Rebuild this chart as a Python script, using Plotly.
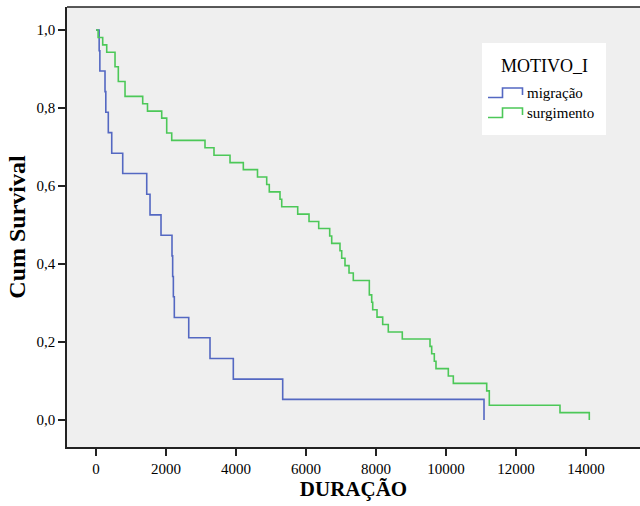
import plotly.graph_objects as go

# ---- data ----
mig_time = [0, 90, 110, 257, 280, 351, 449, 763, 1449, 1543, 1857, 2171, 2190,
            2210, 2237, 2649, 3257, 3923, 5334, 11086]
mig_surv = [1.000, 0.947, 0.895, 0.842, 0.789, 0.737, 0.684, 0.632, 0.579, 0.526,
            0.474, 0.421, 0.368, 0.316, 0.263, 0.211, 0.158, 0.105, 0.053, 0.000]

sur_time = [0, 60, 191, 306, 543, 637, 829, 1334, 1471, 1877, 2020, 2163, 3114,
            3371, 3829, 4209, 4614, 4877, 4951, 5257, 5306, 5763, 6086, 6363,
            6677, 6734, 6971, 7020, 7114, 7229, 7351, 7809, 7877, 7906, 8029,
            8191, 8351, 8751, 9543, 9591, 9666, 9714, 10066, 10209, 11163, 11237,
            13257, 14094]
sur_surv = [1.000, 0.981, 0.962, 0.943, 0.906, 0.868, 0.830, 0.811, 0.792, 0.774,
            0.736, 0.717, 0.698, 0.679, 0.660, 0.642, 0.623, 0.604, 0.585, 0.566,
            0.547, 0.528, 0.509, 0.491, 0.472, 0.453, 0.434, 0.415, 0.396, 0.377,
            0.358, 0.321, 0.302, 0.283, 0.264, 0.245, 0.226, 0.208, 0.189, 0.170,
            0.151, 0.132, 0.113, 0.094, 0.075, 0.038, 0.019, 0.000]

x_ticks = [0, 2000, 4000, 6000, 8000, 10000, 12000, 14000]
y_ticks = [0.0, 0.2, 0.4, 0.6, 0.8, 1.0]
y_tick_labels = ["0,0", "0,2", "0,4", "0,6", "0,8", "1,0"]

series_names = ["migração", "surgimento"]
legend_title = "MOTIVO_I"
x_title = "DURAÇÃO"
y_title = "Cum Survival"

BLUE = "#5468c2"
GREEN = "#4cc858"
COLORS = [BLUE, GREEN]
SERIF = "Liberation Serif, Times New Roman, serif"

W, H = 640, 506
ML, MR, MT, MB = 67, 0, 7, 59
PW, PH = W - ML - MR, H - MT - MB


def px(x):  # pixel -> paper x
    return (x - ML) / PW


def py(y):  # pixel -> paper y
    return 1 - (y - MT) / PH


fig = go.Figure()
fig.add_trace(go.Scatter(x=mig_time, y=mig_surv, mode="lines", name=series_names[0],
                         line=dict(color=BLUE, width=1.6, shape="hv")))
fig.add_trace(go.Scatter(x=sur_time, y=sur_surv, mode="lines", name=series_names[1],
                         line=dict(color=GREEN, width=1.6, shape="hv")))

fig.update_layout(
    width=W, height=H,
    margin=dict(l=ML, r=MR, t=MT, b=MB),
    paper_bgcolor="white",
    plot_bgcolor="#efefef",
    font=dict(family=SERIF, color="black"),
    showlegend=False,
    xaxis=dict(
        range=[-829, 15543],
        tickvals=x_ticks, ticktext=[str(v) for v in x_ticks],
        ticks="outside", ticklen=7, tickwidth=1.5, tickcolor="#222",
        showline=True, linecolor="#222", linewidth=1.5, mirror=False,
        showgrid=False, zeroline=False,
        tickfont=dict(size=15, family=SERIF),
        title=dict(text=f"<b>{x_title}</b>", font=dict(size=21, family=SERIF), standoff=6),
    ),
    yaxis=dict(
        range=[-0.069, 1.059],
        tickvals=y_ticks, ticktext=y_tick_labels,
        ticks="outside", ticklen=7, tickwidth=1.5, tickcolor="#222",
        showline=True, linecolor="#222", linewidth=1.5,
        showgrid=False, zeroline=False,
        tickfont=dict(size=15, family=SERIF),
        title=dict(text=f"<b>{y_title}</b>", font=dict(size=24, family=SERIF), standoff=4),
    ),
)
# top frame line
fig.add_shape(type="line", xref="paper", yref="paper", x0=0, x1=1, y0=1, y1=1,
              line=dict(color="#222", width=1.5))

# ---- legend box (SPSS style with step icons) ----
fig.add_shape(type="rect", xref="paper", yref="paper",
              x0=px(482), x1=px(606), y0=py(135), y1=py(43),
              fillcolor="white", line=dict(width=0), layer="above")
fig.add_annotation(xref="paper", yref="paper", x=px(544), y=py(66),
                   text=legend_title, showarrow=False,
                   font=dict(size=18, family=SERIF), xanchor="center", yanchor="middle")
item_y = [93, 113]
for name, col, yc in zip(series_names, COLORS, item_y):
    lo, hi = yc + 4.5, yc - 5
    path = (f"M {px(488)} {py(lo)} L {px(502.5)} {py(lo)} L {px(502.5)} {py(hi)} "
            f"L {px(522.5)} {py(hi)} L {px(522.5)} {py(yc + 2)}")
    fig.add_shape(type="path", xref="paper", yref="paper", path=path,
                  line=dict(color=col, width=1.6), layer="above")
    fig.add_annotation(xref="paper", yref="paper", x=px(525), y=py(yc),
                       text=name, showarrow=False,
                       font=dict(size=15, family=SERIF), xanchor="left", yanchor="middle")

fig.write_html("out.html")
